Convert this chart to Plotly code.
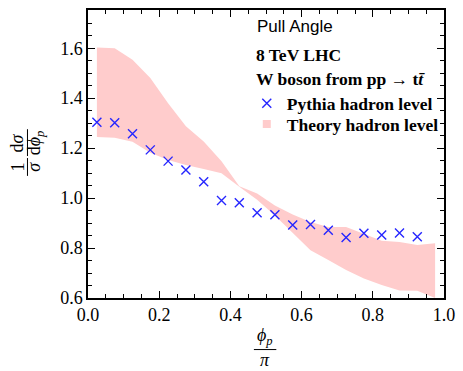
import plotly.graph_objects as go

# Pythia hadron level points
pythia_x = [0.025, 0.075, 0.125, 0.175, 0.225, 0.275, 0.325, 0.375, 0.425, 0.475,
            0.525, 0.575, 0.625, 0.675, 0.725, 0.775, 0.825, 0.875, 0.925]
pythia_y = [1.304, 1.302, 1.258, 1.193, 1.148, 1.112, 1.065, 0.990, 0.981, 0.941,
            0.933, 0.892, 0.894, 0.871, 0.842, 0.859, 0.852, 0.860, 0.845]

# Theory hadron level band
band_x = [0.025, 0.075, 0.125, 0.175, 0.225, 0.275, 0.325, 0.375, 0.425, 0.475,
          0.525, 0.575, 0.625, 0.675, 0.725, 0.775, 0.825, 0.875, 0.925, 0.975]
band_upper = [1.603, 1.600, 1.554, 1.481, 1.380, 1.288, 1.227, 1.147, 1.047, 1.018,
              0.970, 0.934, 0.904, 0.884, 0.884, 0.855, 0.829, 0.824, 0.812, 0.819]
band_lower = [1.245, 1.242, 1.226, 1.182, 1.152, 1.132, 1.116, 1.099, 1.045, 0.993,
              0.930, 0.862, 0.791, 0.752, 0.712, 0.678, 0.652, 0.630, 0.629, 0.600]

x_ticks = [0.0, 0.2, 0.4, 0.6, 0.8, 1.0]
y_ticks = [0.6, 0.8, 1.0, 1.2, 1.4, 1.6]

PINK = "#FFCCCC"
BLUE = "#2626FF"
SERIF = "Liberation Serif"
SANS = "Liberation Sans"

fig = go.Figure()
fig.add_trace(go.Scatter(x=band_x, y=band_lower, mode="lines", line=dict(width=0, color=PINK),
                         showlegend=False, hoverinfo="skip"))
fig.add_trace(go.Scatter(x=band_x, y=band_upper, mode="lines", line=dict(width=0, color=PINK),
                         fill="tonexty", fillcolor=PINK, showlegend=False, hoverinfo="skip"))
fig.add_trace(go.Scatter(x=pythia_x, y=pythia_y, mode="markers", name="<b>Pythia hadron level</b>",
                         legend="legend",
                         marker=dict(symbol="x-thin-open", size=9, line=dict(width=1.4, color=BLUE), color=BLUE)))
fig.add_trace(go.Scatter(x=[None], y=[None], mode="markers", name="<b>Theory hadron level</b>",
                         legend="legend2",
                         marker=dict(symbol="square", size=8, color=PINK)))

axis_common = dict(
    showline=True, linecolor="black", linewidth=1.5, mirror="allticks",
    ticks="inside", ticklen=7, tickwidth=1, tickcolor="black",
    showgrid=False, zeroline=False,
    tickfont=dict(family=SERIF, size=18, color="black"),
    minor=dict(ticks="inside", ticklen=4, tickwidth=1, tickcolor="black", dtick=0.05, showgrid=False),
)
fig.update_xaxes(range=[0, 1], tickvals=x_ticks, ticktext=[f"{v:.1f}" for v in x_ticks], **axis_common)
fig.update_yaxes(range=[0.6, 1.753], tickvals=y_ticks, ticktext=[f"{v:.1f}" for v in y_ticks],
                 ticklabelstandoff=0, **axis_common)

ann = []
def txt(text, x, y, size=17, family=SERIF, angle=0, xanchor="center", yanchor="middle"):
    ann.append(dict(text=text, x=x, y=y, xref="paper", yref="paper", showarrow=False,
                    font=dict(family=family, size=size, color="black"), textangle=angle,
                    xanchor=xanchor, yanchor=yanchor))

txt("Pull Angle", 0.468, 0.941, size=17, family=SANS, xanchor="left")
txt("<b>8 TeV LHC</b>", 0.466, 0.845, size=17.5, xanchor="left")
txt("<b>W boson from pp → t<i>t\u0304</i></b>", 0.466, 0.762, size=17.5, xanchor="left")

# y-axis label fraction (rotated)
txt("1", -0.198, 0.455, size=18, angle=-90)
txt("<i>σ</i>", -0.152, 0.455, size=18, angle=-90)
txt("d<i>σ</i>", -0.198, 0.538, size=18, angle=-90)
txt("d<i>ϕ</i><sub><i>p</i></sub>", -0.148, 0.538, size=18, angle=-90)

# x-axis label fraction
txt("<i>ϕ</i><sub><i>p</i></sub>", 0.496, -0.135, size=18)
txt("<i>π</i>", 0.496, -0.217, size=18)

shapes = [
    dict(type="line", xref="paper", yref="paper", x0=-0.170, x1=-0.170, y0=0.424, y1=0.486,
         line=dict(color="black", width=1)),
    dict(type="line", xref="paper", yref="paper", x0=-0.170, x1=-0.170, y0=0.493, y1=0.586,
         line=dict(color="black", width=1)),
    dict(type="line", xref="paper", yref="paper", x0=0.466, x1=0.529, y0=-0.179, y1=-0.179,
         line=dict(color="black", width=1)),
]

legend_common = dict(xanchor="left", yanchor="middle", bgcolor="rgba(0,0,0,0)", borderwidth=0,
                     font=dict(family=SERIF, size=17.5, color="black"), itemwidth=30)
fig.update_layout(
    width=463, height=371,
    margin=dict(l=88, r=12, t=8, b=73),
    paper_bgcolor="white", plot_bgcolor="white",
    annotations=ann, shapes=shapes,
    legend=dict(x=0.446, y=0.676, **legend_common),
    legend2=dict(x=0.446, y=0.604, **legend_common),
    showlegend=True,
)

fig.write_html("out.html")
